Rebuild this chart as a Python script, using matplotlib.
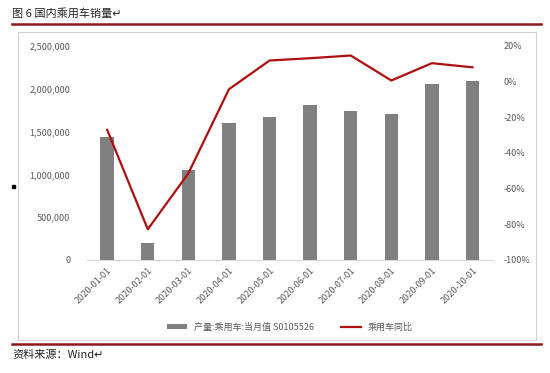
import numpy as np
import matplotlib.pyplot as plt
from matplotlib.ticker import FuncFormatter
from matplotlib.patches import Rectangle
from matplotlib.lines import Line2D

plt.rcParams['font.family'] = ['Noto Sans CJK SC', 'DejaVu Sans']

# data
dates = ['2020-01-01', '2020-02-01', '2020-03-01', '2020-04-01', '2020-05-01',
         '2020-06-01', '2020-07-01', '2020-08-01', '2020-09-01', '2020-10-01']
output = [1440000, 195000, 1050000, 1600000, 1670000,
          1810000, 1740000, 1700000, 2060000, 2090000]
yoy = [-27.1, -82.8, -51.4, -4.3, 11.8, 13.1, 14.6, 0.6, 10.3, 8.0]

bar_label = '产量:乘用车:当月值 S0105526'
line_label = '乘用车同比'
title = '图 6 国内乘用车销量↵'
source = '资料来源：Wind↵'

red = '#B00F0F'
grey_txt = '#595959'

W, H = 550, 373
def fx(px): return px / W
def fy(py): return 1 - py / H

fig = plt.figure(figsize=(5.5, 3.73), dpi=100)

# frame + rules around the chart
fig.add_artist(Rectangle((fx(18), fy(340)), (536 - 18) / W, (340 - 32) / H,
                         transform=fig.transFigure, fill=False,
                         edgecolor='#D0D0D0', linewidth=0.8))
fig.add_artist(Line2D([fx(12), fx(541)], [fy(24), fy(24)], transform=fig.transFigure,
                      color='#8B1A1A', linewidth=1.8))
fig.add_artist(Line2D([fx(12), fx(541)], [fy(344), fy(344)], transform=fig.transFigure,
                      color='#8B1A1A', linewidth=1.8))
fig.text(fx(12), fy(13), title, fontsize=8, va='center', ha='left', color='#222222')
fig.text(fx(12), fy(355), source, fontsize=8, va='center', ha='left', color='#222222')
fig.add_artist(Rectangle((fx(12), fy(188)), 3 / W, 3 / H, transform=fig.transFigure,
                         color='black'))

ax = fig.add_axes([0.158, 0.303, 0.738, 0.574])
x = np.arange(len(dates))
ax.bar(x, output, width=0.33, color='#808080', label=bar_label, zorder=2)
ax.set_xlim(-0.5, len(dates) - 0.5)
ax.set_ylim(0, 2500000)
ax.set_yticks(np.arange(0, 2500001, 500000))
ax.yaxis.set_major_formatter(FuncFormatter(lambda v, p: f'{int(v):,}'))
ax.set_xticks(x)
ax.set_xticklabels(dates, rotation=45, ha='right', rotation_mode='anchor')
for s in ['top', 'left', 'right']:
    ax.spines[s].set_visible(False)
ax.spines['bottom'].set_color('#D9D9D9')
ax.tick_params(axis='both', length=0, labelsize=6.5, labelcolor=grey_txt)
ax.tick_params(axis='y', pad=12)
ax.tick_params(axis='x', pad=4)

ax2 = ax.twinx()
ax2.plot(x, yoy, color=red, linewidth=1.6, label=line_label, zorder=3)
ax2.set_ylim(-100, 20)
ax2.set_yticks(np.arange(-100, 21, 20))
ax2.yaxis.set_major_formatter(FuncFormatter(lambda v, p: f'{int(v)}%'))
for s in ['top', 'left', 'right', 'bottom']:
    ax2.spines[s].set_visible(False)
ax2.tick_params(axis='y', length=0, labelsize=6.5, labelcolor=grey_txt, pad=8)

h1, l1 = ax.get_legend_handles_labels()
h2, l2 = ax2.get_legend_handles_labels()
fig.legend(h1 + h2, l1 + l2, loc='center', bbox_to_anchor=(fx(290), fy(327)),
           ncol=2, frameon=False, fontsize=6.5, labelcolor=grey_txt,
           handlelength=2.2, handleheight=0.5, columnspacing=3.0)

fig.savefig('out.png', dpi=100)
